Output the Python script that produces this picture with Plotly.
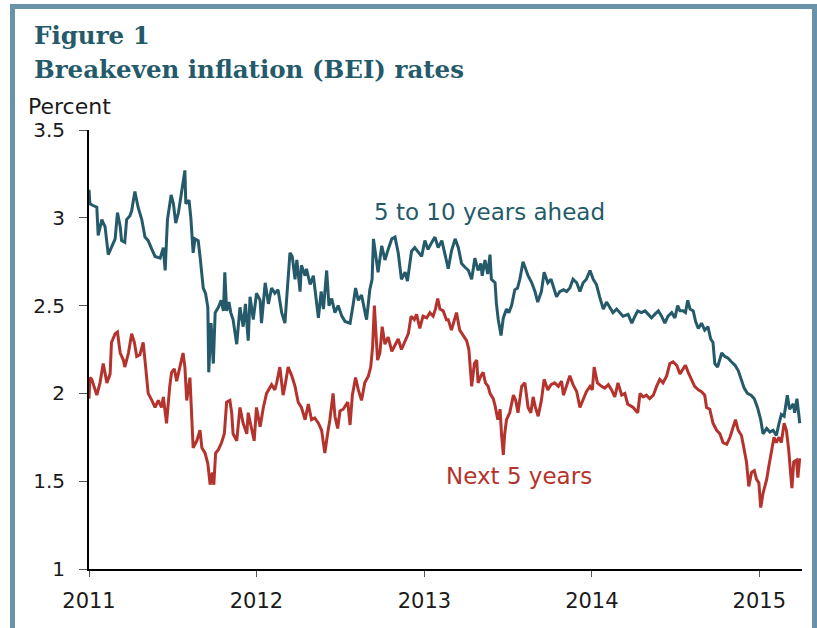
import pandas as pd
import plotly.graph_objects as go

# ---- data (days after 2011-01-01, percent) ----
far_days = [0, 2, 9, 17, 20, 28, 31, 35, 42, 49, 57, 62, 68, 71, 78, 82, 89, 93, 100, 107, 115, 122, 129, 137, 144,
            155, 162, 166, 171, 179, 184, 189, 195, 202, 209, 211, 218, 222, 227, 231, 238, 242, 246, 249, 254, 259,
            261, 266, 271, 275, 282, 288, 293, 296, 300, 305, 309, 314, 322, 329, 336, 341, 347, 351, 358, 365, 373,
            376, 384, 391, 398, 405, 412, 420, 427, 431, 438, 443, 449, 453, 460, 463, 471, 474, 482, 489, 496, 500,
            506, 511, 518, 523, 529, 536, 543, 551, 558, 569, 576, 581, 587, 594, 601, 605, 612, 617, 620, 625, 630,
            638, 645, 652, 660, 667, 674, 681, 689, 694, 703, 710, 718, 725, 732, 739, 747, 754, 761, 769, 776, 783,
            790, 798, 805, 812, 819, 827, 834, 841, 848, 854, 857, 863, 869, 874, 877, 885, 888, 892, 898, 903, 910,
            915, 921, 928, 934, 939, 946, 950, 957, 965, 972, 978, 986, 992, 1000, 1007, 1012, 1019, 1026, 1034, 1041,
            1048, 1055, 1063, 1070, 1077, 1084, 1092, 1099, 1106, 1113, 1121, 1128, 1135, 1142, 1150, 1157, 1164,
            1175, 1183, 1190, 1196, 1204, 1212, 1219, 1226, 1233, 1241, 1248, 1255, 1262, 1270, 1277, 1283, 1288,
            1295, 1300, 1305, 1310, 1317, 1322, 1328, 1335, 1342, 1349, 1355, 1360, 1364, 1370, 1379, 1386, 1393,
            1400, 1408, 1415, 1422, 1428, 1435, 1443, 1450, 1457, 1464, 1469, 1477, 1484, 1491, 1498, 1504, 1509,
            1515, 1522, 1527, 1535, 1538, 1543, 1547, 1549]
far_vals = [3.16, 3.08, 3.07, 3.06, 2.90, 2.99, 2.97, 2.95, 2.79, 2.83, 2.88, 3.03, 2.95, 2.87, 2.86, 2.99, 3.01, 3.04,
            3.15, 3.06, 2.99, 2.89, 2.87, 2.82, 2.78, 2.77, 2.83, 2.70, 2.99, 3.13, 3.08, 2.97, 3.03, 3.15, 3.27, 3.08,
            3.10, 3.00, 2.80, 2.88, 2.87, 2.78, 2.65, 2.60, 2.57, 2.49, 2.12, 2.40, 2.17, 2.46, 2.49, 2.53, 2.47, 2.69,
            2.47, 2.52, 2.46, 2.42, 2.28, 2.49, 2.38, 2.51, 2.30, 2.55, 2.42, 2.57, 2.53, 2.40, 2.63, 2.51, 2.60, 2.57,
            2.59, 2.46, 2.40, 2.53, 2.80, 2.78, 2.65, 2.76, 2.58, 2.73, 2.67, 2.71, 2.62, 2.67, 2.52, 2.43, 2.58, 2.48,
            2.70, 2.50, 2.54, 2.46, 2.50, 2.44, 2.41, 2.40, 2.51, 2.60, 2.53, 2.56, 2.47, 2.42, 2.59, 2.65, 2.88, 2.78,
            2.69, 2.84, 2.76, 2.82, 2.88, 2.89, 2.80, 2.65, 2.69, 2.64, 2.81, 2.83, 2.80, 2.78, 2.87, 2.82, 2.86, 2.89,
            2.83, 2.87, 2.79, 2.71, 2.81, 2.88, 2.83, 2.74, 2.72, 2.70, 2.65, 2.77, 2.70, 2.74, 2.67, 2.76, 2.68, 2.79,
            2.65, 2.63, 2.51, 2.42, 2.33, 2.43, 2.48, 2.46, 2.50, 2.59, 2.60, 2.65, 2.75, 2.72, 2.67, 2.63, 2.58, 2.52,
            2.58, 2.69, 2.63, 2.65, 2.61, 2.55, 2.58, 2.59, 2.58, 2.60, 2.65, 2.63, 2.58, 2.63, 2.65, 2.70, 2.65, 2.62,
            2.55, 2.48, 2.52, 2.49, 2.46, 2.48, 2.46, 2.44, 2.45, 2.40, 2.44, 2.47, 2.46, 2.47, 2.45, 2.43, 2.45, 2.47,
            2.44, 2.40, 2.44, 2.46, 2.43, 2.50, 2.47, 2.47, 2.46, 2.53, 2.48, 2.47, 2.41, 2.37, 2.40, 2.36, 2.38, 2.31,
            2.29, 2.17, 2.15, 2.23, 2.21, 2.20, 2.18, 2.16, 2.13, 2.08, 2.03, 2.00, 1.99, 1.97, 1.92, 1.85, 1.77, 1.80,
            1.78, 1.79, 1.76, 1.83, 1.88, 1.87, 1.99, 1.91, 1.94, 1.89, 1.97, 1.88, 1.83]

near_days = [0, 2, 6, 13, 17, 24, 31, 39, 46, 49, 57, 62, 68, 75, 78, 86, 93, 99, 104, 111, 118, 122, 129, 137, 144,
             151, 158, 162, 169, 176, 180, 186, 191, 198, 205, 209, 213, 220, 224, 227, 235, 242, 246, 253, 259, 264,
             269, 272, 276, 282, 289, 295, 300, 307, 311, 314, 322, 329, 336, 344, 347, 355, 360, 365, 373, 380, 387,
             398, 405, 409, 416, 423, 427, 434, 442, 449, 456, 463, 471, 478, 485, 492, 500, 507, 514, 520, 525, 532,
             536, 542, 547, 554, 564, 569, 574, 581, 587, 594, 601, 609, 614, 618, 622, 625, 629, 634, 639, 645, 652,
             660, 667, 674, 681, 689, 696, 702, 709, 714, 721, 728, 736, 743, 750, 755, 760, 765, 772, 779, 783, 790,
             798, 801, 808, 816, 823, 828, 834, 840, 845, 848, 854, 859, 864, 870, 874, 881, 885, 891, 896, 899, 903,
             906, 910, 917, 925, 930, 935, 943, 950, 957, 963, 968, 973, 979, 986, 992, 1000, 1007, 1015, 1023, 1030,
             1034, 1041, 1048, 1055, 1063, 1070, 1077, 1084, 1092, 1097, 1101, 1108, 1117, 1124, 1132, 1139, 1146,
             1153, 1161, 1168, 1174, 1179, 1186, 1196, 1201, 1208, 1215, 1222, 1230, 1237, 1244, 1251, 1259, 1266,
             1273, 1281, 1288, 1295, 1300, 1306, 1313, 1320, 1328, 1335, 1342, 1346, 1353, 1360, 1368, 1375, 1382,
             1390, 1397, 1404, 1409, 1415, 1422, 1428, 1433, 1438, 1444, 1450, 1455, 1460, 1464, 1469, 1477, 1482,
             1488, 1493, 1498, 1504, 1509, 1515, 1520, 1525, 1529, 1532, 1536, 1542, 1545, 1549]
near_vals = [1.97, 2.09, 2.08, 2.02, 1.99, 2.06, 2.17, 2.06, 2.11, 2.29, 2.34, 2.35, 2.23, 2.19, 2.15, 2.23, 2.34, 2.29,
             2.21, 2.22, 2.29, 2.19, 2.00, 1.96, 1.92, 1.96, 1.92, 1.98, 1.83, 2.04, 2.12, 2.14, 2.07, 2.15, 2.23, 2.15,
             1.96, 2.09, 1.87, 1.69, 1.73, 1.79, 1.69, 1.66, 1.60, 1.48, 1.55, 1.48, 1.66, 1.68, 1.72, 1.77, 1.95, 1.96,
             1.89, 1.77, 1.73, 1.92, 1.83, 1.77, 1.89, 1.80, 1.73, 1.92, 1.81, 1.92, 2.00, 2.05, 2.02, 2.06, 2.15, 1.99,
             2.04, 2.15, 2.10, 2.04, 1.95, 1.92, 1.85, 1.94, 1.85, 1.86, 1.83, 1.79, 1.66, 1.77, 1.85, 2.00, 1.87, 1.80,
             1.90, 1.91, 1.95, 1.82, 1.99, 2.09, 2.02, 1.96, 2.06, 2.10, 2.15, 2.26, 2.50, 2.36, 2.19, 2.23, 2.38, 2.28,
             2.32, 2.24, 2.28, 2.31, 2.25, 2.30, 2.34, 2.44, 2.42, 2.45, 2.37, 2.44, 2.43, 2.46, 2.44, 2.48, 2.54, 2.48,
             2.47, 2.42, 2.42, 2.36, 2.44, 2.46, 2.36, 2.33, 2.30, 2.25, 2.04, 2.17, 2.19, 2.06, 2.10, 2.12, 2.06, 2.04,
             2.00, 1.97, 1.93, 1.85, 1.91, 1.77, 1.65, 1.77, 1.85, 1.89, 1.99, 1.96, 1.89, 2.04, 2.06, 1.92, 1.89, 1.98,
             1.92, 1.87, 1.96, 2.08, 2.02, 2.05, 2.06, 2.04, 2.07, 1.99, 2.04, 2.10, 2.05, 2.01, 1.92, 1.96, 2.01, 2.04,
             2.02, 2.15, 2.06, 2.04, 2.03, 2.05, 2.02, 1.98, 2.06, 1.99, 2.00, 1.94, 1.93, 1.92, 1.89, 2.00, 1.98, 1.99,
             1.97, 1.99, 2.04, 2.08, 2.06, 2.10, 2.17, 2.18, 2.16, 2.11, 2.14, 2.16, 2.12, 2.08, 2.04, 2.02, 2.01, 1.99,
             1.92, 1.91, 1.83, 1.79, 1.77, 1.72, 1.71, 1.75, 1.81, 1.85, 1.79, 1.76, 1.68, 1.61, 1.47, 1.55, 1.56, 1.51,
             1.49, 1.35, 1.43, 1.51, 1.59, 1.67, 1.75, 1.72, 1.75, 1.72, 1.83, 1.79, 1.68, 1.55, 1.46, 1.61, 1.62, 1.52,
             1.63]

year_ticks = ["2011-01-01", "2012-01-01", "2013-01-01", "2014-01-01", "2015-01-01"]
year_labels = ["2011", "2012", "2013", "2014", "2015"]
y_ticks = [1, 1.5, 2, 2.5, 3, 3.5]
y_labels = ["1", "1.5", "2", "2.5", "3", "3.5"]

TEAL = "#245a6a"
RED = "#b5332d"
FRAME = "#6a93a7"

base = pd.Timestamp("2011-01-01")
far_dates = base + pd.to_timedelta(far_days, unit="D")
near_dates = base + pd.to_timedelta(near_days, unit="D")

fig = go.Figure()
fig.add_trace(go.Scatter(x=far_dates, y=far_vals, mode="lines", name="5 to 10 years ahead",
                         line=dict(color=TEAL, width=3)))
fig.add_trace(go.Scatter(x=near_dates, y=near_vals, mode="lines", name="Next 5 years",
                         line=dict(color=RED, width=3)))

W, H = 817, 628
L, R, T, B = 89, 15, 130, 59
pw, ph = W - L - R, H - T - B


def px(xp):
    return (xp - L) / pw


def py(yp):
    return (H - B - yp) / ph


fig.update_layout(
    width=W, height=H,
    margin=dict(l=L, r=R, t=T, b=B),
    paper_bgcolor="white", plot_bgcolor="white",
    showlegend=False,
    font=dict(family="DejaVu Sans", color="#1a1a1a"),
    xaxis=dict(
        type="date",
        range=[base, base + pd.Timedelta(days=1554)],
        tickvals=year_ticks, ticktext=year_labels,
        showgrid=False, zeroline=False,
        showline=True, linecolor="black", linewidth=2,
        ticks="outside", ticklen=6, tickwidth=1, tickcolor="#555",
        tickfont=dict(size=21, family="DejaVu Sans", color="#1a1a1a"),
        ticklabelstandoff=6,
    ),
    yaxis=dict(
        range=[1, 3.5],
        tickvals=y_ticks, ticktext=y_labels,
        showgrid=False, zeroline=False,
        showline=True, linecolor="black", linewidth=2,
        ticks="outside", ticklen=8, tickwidth=1, tickcolor="#555",
        tickfont=dict(size=20, family="DejaVu Sans", color="#1a1a1a"),
        ticklabelstandoff=10,
    ),
    shapes=[dict(type="rect", xref="paper", yref="paper",
                 x0=px(12.5), x1=px(814.5), y0=py(660), y1=py(6.5),
                 line=dict(color=FRAME, width=5), fillcolor="rgba(0,0,0,0)", layer="below")],
    annotations=[
        dict(text="<b>Figure 1</b>", xref="paper", yref="paper", x=px(32), y=py(35),
             xanchor="left", yanchor="middle", showarrow=False,
             font=dict(family="DejaVu Serif", size=24.5, color="#245a6a")),
        dict(text="<b>Breakeven inflation (BEI) rates</b>", xref="paper", yref="paper", x=px(32), y=py(69),
             xanchor="left", yanchor="middle", showarrow=False,
             font=dict(family="DejaVu Serif", size=24.5, color="#245a6a")),
        dict(text="Percent", xref="paper", yref="paper", x=px(26), y=py(106),
             xanchor="left", yanchor="middle", showarrow=False,
             font=dict(family="DejaVu Sans", size=22, color="#1a1a1a")),
        dict(text="5 to 10 years ahead", xref="x", yref="y",
             x=base + pd.Timedelta(days=617), y=3.033,
             xanchor="left", yanchor="middle", showarrow=False,
             font=dict(family="DejaVu Sans", size=23, color=TEAL)),
        dict(text="Next 5 years", xref="x", yref="y",
             x=base + pd.Timedelta(days=774), y=1.53,
             xanchor="left", yanchor="middle", showarrow=False,
             font=dict(family="DejaVu Sans", size=23, color=RED)),
    ],
)

fig.write_html("out.html", config={"displayModeBar": False},
               post_script="document.body.style.margin='0';document.body.style.overflow='hidden';")
